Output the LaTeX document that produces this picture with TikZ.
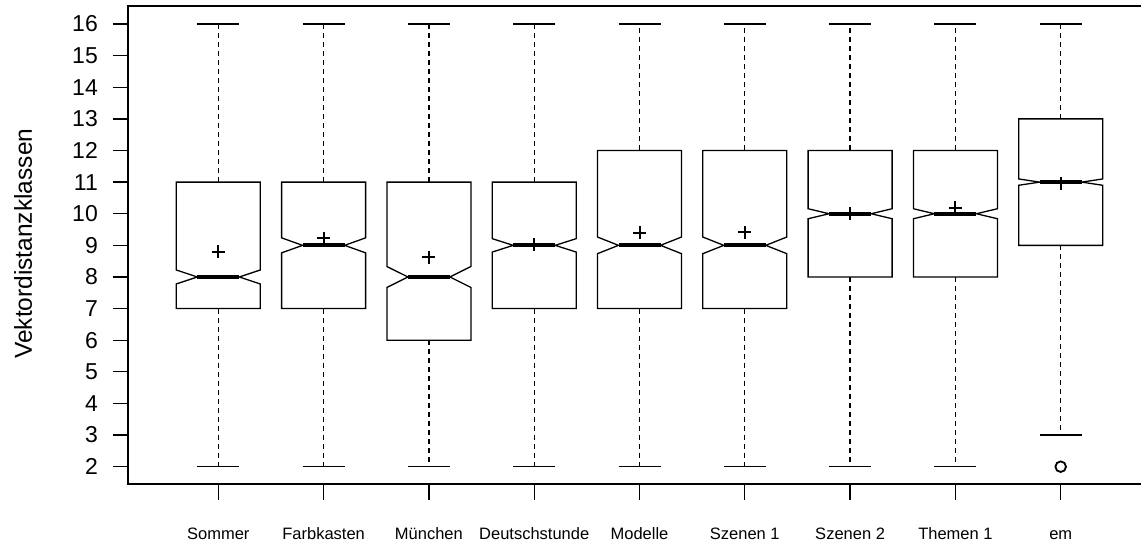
\documentclass[tikz,border=0pt]{standalone}
\usepackage{fontspec}
\setmainfont{Liberation Sans}
\begin{document}
\begin{tikzpicture}[x=1pt,y=1pt,
  boxline/.style={line width=1.3pt,line join=miter},
  whisk/.style={line width=1.3pt,dash pattern=on 5pt off 4pt},
  medline/.style={line width=4.2pt,line cap=butt},
  ticklab/.style={font=\fontsize{23}{25}\selectfont,inner sep=0pt},
  catlab/.style={font=\fontsize{16.5}{18}\selectfont,inner sep=0pt}]
\useasboundingbox (0,0) rectangle (1141,543);
\begin{scope}[yshift=13.06pt,y=31.62pt]
  % frame
  \draw[line width=1.3pt] (1145,16.57) -- (128,16.57) -- (128,1.453) -- (1145,1.453);
  % y axis ticks and labels
  \foreach \v in {2,...,16}{
    \draw[line width=1.3pt] (112.7,\v) -- (128,\v);
    \node[ticklab,anchor=east] (yl\v) at (98,\v) {\v};
  }
  \node[font=\fontsize{24.5}{26}\selectfont,rotate=90,inner sep=0pt] (ylab) at (23,9.05) {Vektordistanzklassen};
  % boxes
  \foreach \i/\x/\lo/\qa/\md/\qb/\hi/\n/\mn/\lab in {
    1/218.3/2/7/8/11/16/0.221/8.8/Sommer,
    2/323.6/2/7/9/11/16/0.237/9.22/Farbkasten,
    3/428.9/2/6/8/11/16/0.332/8.62/München,
    4/534.2/2/7/9/11/16/0.212/9.02/Deutschstunde,
    5/639.5/2/7/9/12/16/0.263/9.4/Modelle,
    6/744.8/2/7/9/12/16/0.263/9.42/Szenen 1,
    7/850.1/2/8/10/12/16/0.158/10.0/Szenen 2,
    8/955.4/2/8/10/12/16/0.158/10.19/Themen 1,
    9/1060.7/3/9/11/13/16/0.1/10.97/em}{
    \draw[whisk] (\x,\qb) -- (\x,\hi);
    \draw[whisk] (\x,\qa) -- (\x,\lo);
    \draw[boxline] ({\x-21},\hi) -- ({\x+21},\hi);
    \draw[boxline] ({\x-21},\lo) -- ({\x+21},\lo);
    \draw[boxline] ({\x-42},\qb) -- ({\x-42},{\md+\n}) -- ({\x-21},\md) -- ({\x-42},{\md-\n})
      -- ({\x-42},\qa) -- ({\x+42},\qa) -- ({\x+42},{\md-\n}) -- ({\x+21},\md)
      -- ({\x+42},{\md+\n}) -- ({\x+42},\qb) -- cycle;
    \draw[medline] ({\x-21},\md) -- ({\x+21},\md);
    \draw[line width=2pt] (\x,\mn) ++(-6.5pt,0) -- ++(13pt,0);
    \draw[line width=2pt] (\x,\mn) ++(0,-6.5pt) -- ++(0,13pt);
    % x ticks and labels
    \draw[line width=1.3pt] (\x,1.453) -- (\x,0.947);
    \node[catlab,anchor=base] (xl\i) at (\x,-0.318) {\lab};
  }
  \draw[line width=1.8pt] (1060.7,2) circle (5.3pt);
\end{scope}
\end{tikzpicture}
\end{document}
